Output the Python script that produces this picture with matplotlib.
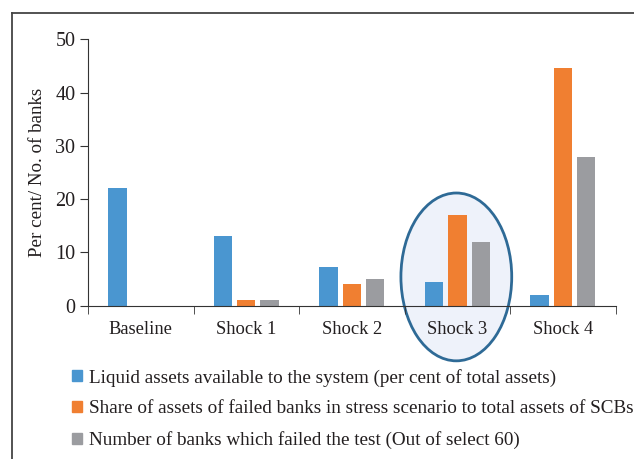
import numpy as np
import matplotlib.pyplot as plt
from matplotlib.patches import Ellipse
from matplotlib.lines import Line2D

categorias = ['Baseline', 'Shock 1', 'Shock 2', 'Shock 3', 'Shock 4']
activos_liquidos = [22.0, 13.0, 7.3, 4.4, 2.1]
activos_quebrados = [0.0, 1.1, 4.1, 17.0, 44.6]
bancos_quebrados = [0.0, 1.0, 5.0, 12.0, 28.0]
etiquetas = ['Liquid assets available to the system (per cent of total assets)',
             'Share of assets of failed banks in stress scenario to total assets of SCBs',
             'Number of banks which failed the test (Out of select 60)']
colores = ['#4a96d0', '#f07f31', '#9b9ca0']

plt.rcParams['font.family'] = 'Liberation Serif'
plt.rcParams['font.size'] = 13.3
texto = '#231f20'

fig = plt.figure(figsize=(6.34, 4.59), dpi=100)
ax = fig.add_axes([0.1388, 0.334, 0.8323, 0.5804])

x = np.arange(len(categorias))
w = 0.174
paso = 0.221
series = [activos_liquidos, activos_quebrados, bancos_quebrados]
for i, (s, c) in enumerate(zip(series, colores)):
    ax.bar(x + (i - 1) * paso, s, w, color=c, zorder=3)

# elipse resaltando Shock 3
elip = Ellipse((2.99, 5.4), 1.05, 31.5, facecolor='#eef2fa', edgecolor='#2e6a96',
               linewidth=2, clip_on=False, zorder=1)
ax.add_patch(elip)

ax.set_xlim(-0.5, 4.5)
ax.set_ylim(0, 50)
ax.set_yticks([0, 10, 20, 30, 40, 50])
ax.set_xticks(x)
ax.set_xticklabels(categorias, color=texto)
ax.set_xticks(np.arange(-0.5, 5, 1), minor=True)
ax.tick_params(axis='x', which='major', length=0, pad=11)
ax.tick_params(axis='x', which='minor', length=6, direction='out', color='#333333')
ax.tick_params(axis='y', length=6, color='#333333', labelcolor=texto, pad=3,
               labelsize=14.5)
ax.set_ylabel('Per cent/ No. of banks', color=texto, labelpad=7, fontsize=13.7)
for lado in ['top', 'right']:
    ax.spines[lado].set_visible(False)
for lado in ['left', 'bottom']:
    ax.spines[lado].set_color('#333333')
    ax.spines[lado].set_zorder(4)

# marco exterior (arriba e izquierda)
fig.add_artist(Line2D([12/634, 12/634], [0, 1 - 13/459], color='#444444', lw=1.3))
fig.add_artist(Line2D([12/634, 1], [1 - 13/459, 1 - 13/459], color='#444444', lw=1.3))

manejadores = [plt.Rectangle((0, 0), 1, 1, color=c) for c in colores]
fig.legend(manejadores, etiquetas, loc='upper left', bbox_to_anchor=(0.114, 0.197),
           frameon=False, handlelength=0.5, handleheight=0.5, handletextpad=0.38,
           labelspacing=0.72, borderaxespad=0, borderpad=0, labelcolor=texto,
           fontsize=13.75)

plt.savefig('out.png', dpi=100)
